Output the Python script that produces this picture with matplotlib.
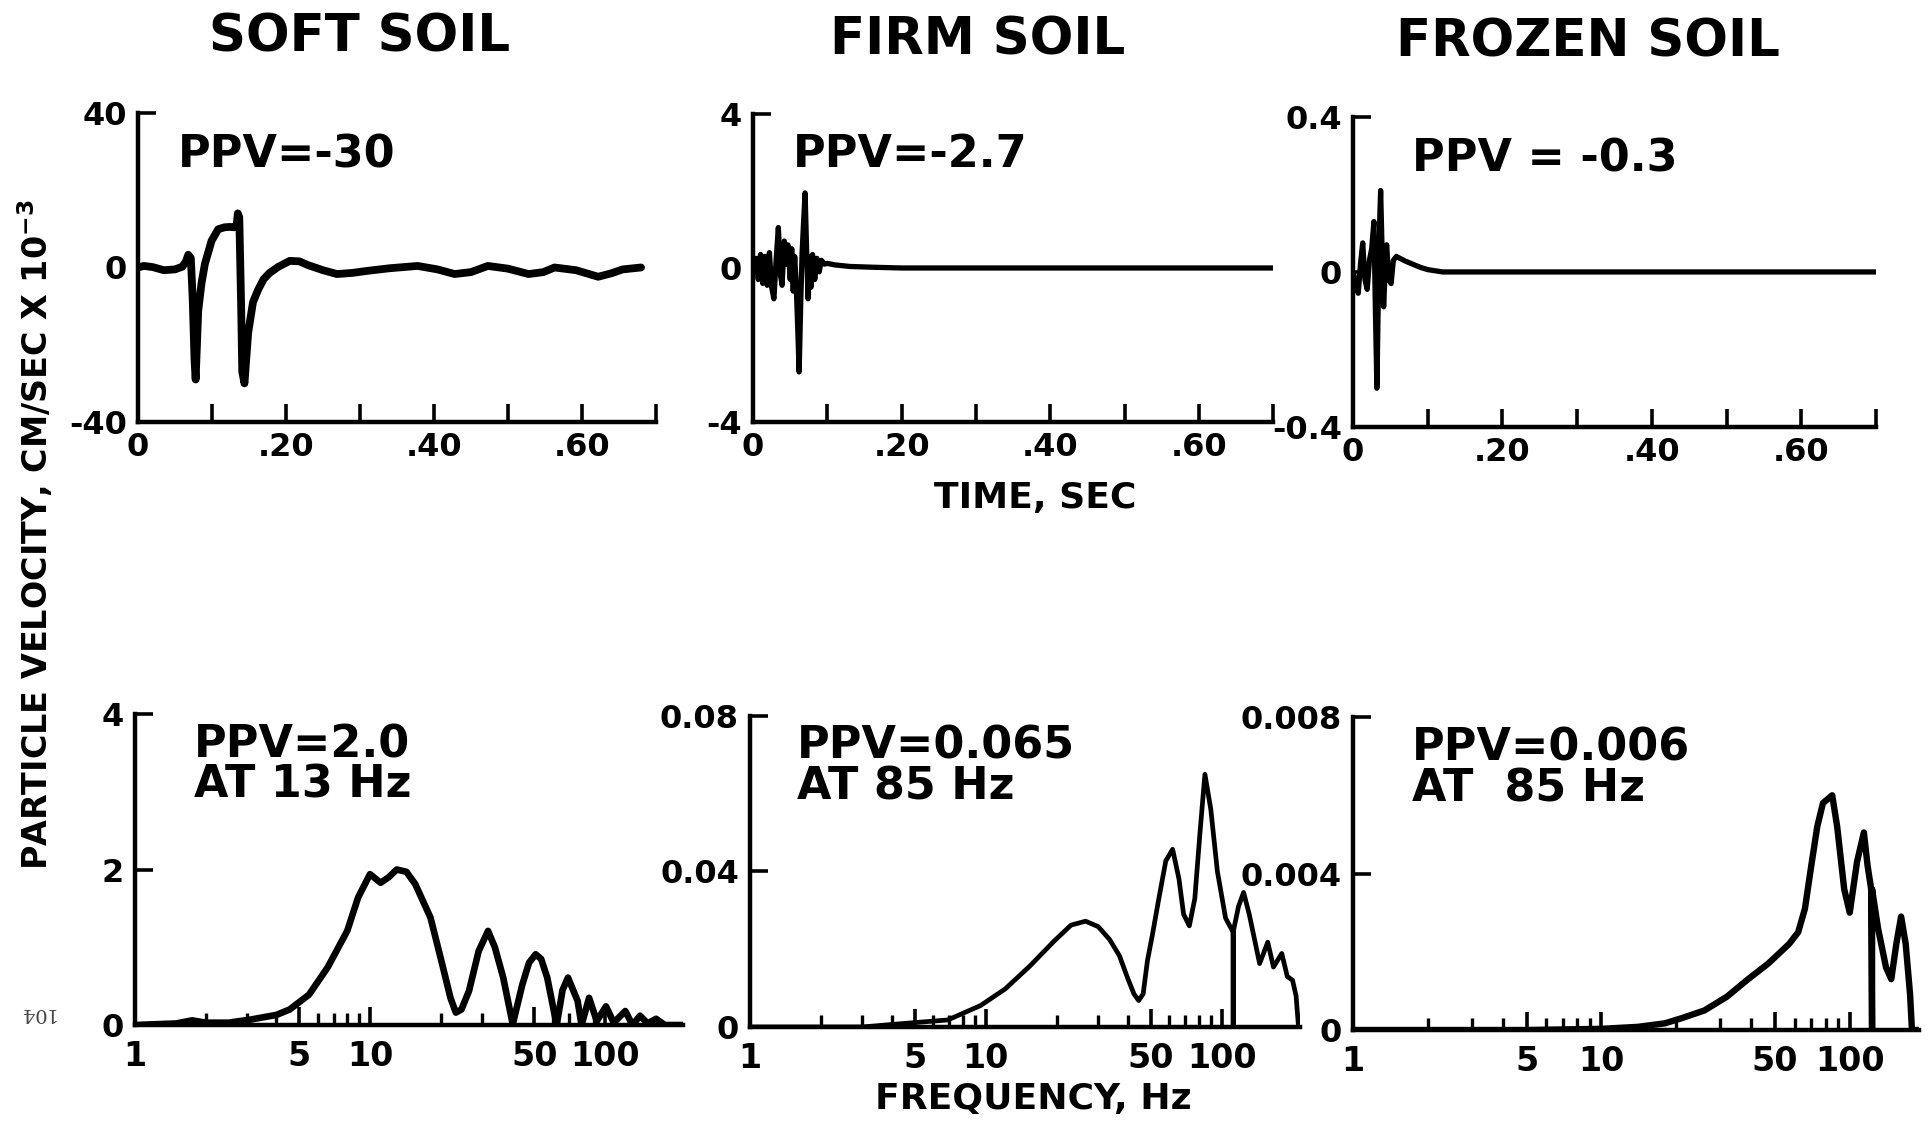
import numpy as np
import matplotlib.pyplot as plt

plt.rcParams['font.family'] = 'DejaVu Sans'
plt.rcParams['font.weight'] = 'bold'
plt.rcParams['mathtext.fontset'] = 'dejavusans'
plt.rcParams['mathtext.default'] = 'bf'

titles = ['SOFT SOIL', 'FIRM SOIL', 'FROZEN SOIL']

# particle velocity time histories (sec, cm/sec x 1e-3)
soft_t = [0.000, 0.008, 0.020, 0.035, 0.050, 0.060, 0.065, 0.068, 0.0715, 0.074,
          0.0765, 0.078, 0.0815, 0.086, 0.0905, 0.0995, 0.1085, 0.117, 0.124, 0.131,
          0.1335, 0.135, 0.137, 0.1395, 0.141, 0.144, 0.149, 0.1555, 0.1626, 0.170,
          0.178, 0.190, 0.205, 0.218, 0.230, 0.250, 0.269, 0.290, 0.309, 0.340,
          0.378, 0.405, 0.428, 0.450, 0.473, 0.500, 0.528, 0.548, 0.563, 0.592,
          0.622, 0.640, 0.655, 0.680]
soft_v = [0.0, 0.4, 0.1, -0.7, -0.5, 0.2, 1.6, 3.3, 2.4, -8.0,
          -24.0, -29.0, -11.2, -4.0, 0.9, 6.9, 9.9, 10.4, 10.5, 10.4,
          11.0, 14.0, 13.0, -10.0, -27.0, -30.0, -16.9, -9.0, -5.7, -3.0,
          -1.4, 0.2, 1.7, 1.6, 0.6, -0.7, -1.7, -1.4, -0.9, -0.2,
          0.4, -0.5, -1.7, -1.2, 0.4, -0.3, -1.7, -1.2, 0.0, -0.7,
          -2.4, -1.5, -0.5, 0.0]

firm_t = [0.000, 0.004, 0.007, 0.010, 0.013, 0.016, 0.019, 0.022, 0.025, 0.028,
          0.031, 0.034, 0.037, 0.039, 0.042, 0.045, 0.047, 0.050, 0.052, 0.054,
          0.056, 0.058, 0.060, 0.062, 0.064, 0.066, 0.068, 0.070, 0.072, 0.074,
          0.076, 0.078, 0.080, 0.083, 0.086, 0.089, 0.092, 0.096, 0.100, 0.110,
          0.130, 0.160, 0.200, 0.700]
firm_v = [0.0, 0.25, -0.3, 0.35, -0.4, 0.3, -0.45, 0.4, -0.5, -0.8,
          0.2, 1.05, -0.2, -0.45, 0.7, 0.1, 0.6, -0.3, 0.5, -0.6,
          0.3, -0.4, -1.5, -2.7, -1.0, 0.4, 1.2, 1.95, 0.5, -0.8,
          0.3, -0.5, 0.35, -0.3, 0.25, -0.1, 0.2, 0.1, 0.12, 0.08,
          0.04, 0.02, 0.0, 0.0]

frozen_t = [0.000, 0.004, 0.007, 0.010, 0.013, 0.016, 0.019, 0.022, 0.025, 0.028,
            0.030, 0.032, 0.034, 0.036, 0.037, 0.039, 0.041, 0.043, 0.045, 0.048,
            0.051, 0.054, 0.058, 0.063, 0.070, 0.080, 0.090, 0.100, 0.120, 0.700]
frozen_v = [0.0, -0.03, -0.055, 0.02, 0.075, -0.02, -0.045, 0.03, 0.06, 0.13,
            -0.1, -0.3, -0.05, 0.15, 0.21, 0.05, -0.09, 0.0, 0.07, -0.02,
            -0.03, 0.03, 0.04, 0.035, 0.028, 0.02, 0.012, 0.006, 0.0, 0.0]

# Fourier amplitude spectra (Hz, cm/sec x 1e-3)
soft_f = [1.0, 1.5, 1.75, 2.0, 2.5, 3.1, 4.0, 4.55, 5.5, 6.6,
          8.0, 8.9, 10.0, 11.1, 12.0, 13.0, 14.3, 15.6, 18.1, 20.3,
          22.0, 23.2, 24.5, 26.4, 29.0, 31.8, 34.0, 36.9, 40.5, 44.5,
          47.5, 50.7, 53.5, 56.8, 62.3, 66.0, 69.6, 76.5, 79.5, 85.6,
          92.3, 101.0, 109.0, 122.0, 131.0, 141.0, 152.0, 165.0, 180.0, 215.0]
soft_a = [0.0, 0.02, 0.06, 0.03, 0.03, 0.07, 0.13, 0.2, 0.39, 0.74,
          1.21, 1.64, 1.94, 1.83, 1.9, 2.0, 1.97, 1.81, 1.38, 0.78,
          0.35, 0.16, 0.2, 0.44, 0.95, 1.21, 1.0, 0.61, 0.01, 0.52,
          0.8, 0.91, 0.85, 0.61, 0.0, 0.45, 0.61, 0.31, 0.0, 0.35,
          0.05, 0.24, 0.03, 0.18, 0.0, 0.12, 0.02, 0.08, 0.0, 0.0]

firm_f = [1.0, 3.0, 4.3, 6.9, 9.5, 12.1, 15.4, 19.5, 23.0, 26.5,
          30.0, 33.5, 36.9, 40.0, 42.5, 44.5, 46.5, 48.5, 51.0, 54.0,
          58.0, 62.0, 66.0, 69.0, 73.0, 77.0, 81.0, 85.0, 90.0, 96.0,
          104.0, 112.0, 112.0, 112.0, 118.0, 124.0, 131.0, 145.0, 157.0, 166.0,
          180.0, 190.0, 200.0, 207.0, 212.0, 215.0]
firm_a = [0.0, 0.0, 0.0008, 0.0018, 0.0055, 0.0098, 0.0157, 0.0221, 0.0262, 0.0272,
          0.0258, 0.0225, 0.0183, 0.0125, 0.0085, 0.0068, 0.0085, 0.0171, 0.024, 0.0325,
          0.0427, 0.0457, 0.038, 0.029, 0.026, 0.033, 0.05, 0.065, 0.056, 0.040,
          0.028, 0.0244, 0.0, 0.0244, 0.031, 0.0346, 0.029, 0.0163, 0.0218, 0.0154,
          0.0189, 0.013, 0.012, 0.008, 0.0, 0.0]

frozen_f = [1.0, 5.0, 10.0, 14.0, 18.0, 21.0, 26.0, 32.0, 39.0, 47.0,
            57.0, 62.0, 66.0, 70.0, 74.0, 78.0, 85.0, 89.0, 95.0, 100.0,
            107.0, 114.0, 118.0, 122.0, 123.0, 123.0, 130.0, 140.0, 147.0, 154.0,
            161.0, 168.0, 175.0, 178.0, 190.0]
frozen_a = [0.0, 0.0, 0.00003, 0.00008, 0.00017, 0.0003, 0.0005, 0.00085, 0.0013, 0.0017,
            0.0022, 0.0025, 0.0031, 0.0042, 0.0052, 0.0058, 0.006, 0.0052, 0.0036, 0.003,
            0.0043, 0.00505, 0.0042, 0.0036, 0.0, 0.0036, 0.0026, 0.0016, 0.0013, 0.0022,
            0.0029, 0.0022, 0.0009, 0.0, 0.0]

time_ylims = [40, 4, 0.4]
time_ylabels = [['-40', '0', '40'], ['-4', '0', '4'], ['-0.4', '0', '0.4']]
spec_ylims = [4, 0.08, 0.008]
spec_ylabels = [['0', '2', '4'], ['0', '0.04', '0.08'], ['0', '0.004', '0.008']]
spec_xmax = [215, 215, 190]

ppv_time = ['PPV=-30', 'PPV=-2.7', 'PPV = -0.3']
ppv_spec = [('PPV=2.0', 'AT 13 Hz'), ('PPV=0.065', 'AT 85 Hz'), ('PPV=0.006', 'AT  85 Hz')]

time_data = [(soft_t, soft_v), (firm_t, firm_v), (frozen_t, frozen_v)]
spec_data = [(soft_f, soft_a), (firm_f, firm_a), (frozen_f, frozen_a)]

time_rects = [[0.0715, 0.6269, 0.2685, 0.2732],
              [0.3904, 0.6269, 0.2696, 0.2723],
              [0.7014, 0.6225, 0.2711, 0.2741]]
spec_rects = [[0.0700, 0.0937, 0.2841, 0.2750],
              [0.3888, 0.0920, 0.2851, 0.2750],
              [0.7014, 0.0893, 0.2934, 0.2767]]
time_lw = [5.6, 3.8, 3.8]
spec_lw = [4.8, 3.4, 4.6]

fig = plt.figure(figsize=(19.29, 11.31), dpi=100)


def frame(ax):
    for side in ['top', 'right']:
        ax.spines[side].set_visible(False)
    for side in ['left', 'bottom']:
        ax.spines[side].set_linewidth(3.2)
        ax.spines[side].set_capstyle('projecting')
    ax.tick_params(which='major', direction='in', length=13, width=2.6,
                   labelsize=23, pad=8)
    ax.tick_params(which='minor', direction='in', length=9, width=2.4)
    ax.set_facecolor('none')


for i in range(3):
    ax = fig.add_axes(time_rects[i])
    frame(ax)
    t, v = time_data[i]
    ax.plot(t, v, color='black', lw=time_lw[i], solid_joinstyle='round',
            solid_capstyle='round')
    ax.set_xlim(0, 0.7)
    ax.set_ylim(-time_ylims[i], time_ylims[i])
    ax.set_xticks(np.arange(8) * 0.1)
    ax.set_xticklabels(['0', '', '.20', '', '.40', '', '.60', ''])
    ax.set_yticks([-time_ylims[i], 0, time_ylims[i]])
    ax.set_yticklabels(time_ylabels[i])
    ax.tick_params(axis='x', pad=7)

for i in range(3):
    ax = fig.add_axes(spec_rects[i])
    frame(ax)
    f, a = spec_data[i]
    ax.plot(f, a, color='black', lw=spec_lw[i], solid_joinstyle='round',
            solid_capstyle='round')
    ax.set_xscale('log')
    ax.set_xlim(1, spec_xmax[i])
    ax.set_ylim(0, spec_ylims[i])
    ax.set_xticks([1, 5, 10, 50, 100])
    ax.set_xticklabels(['1', '5', '10', '50', '100'])
    ax.set_xticks([2, 3, 4, 6, 7, 8, 9, 20, 30, 40, 60, 70, 80, 90], minor=True)
    ax.set_xticklabels([], minor=True)
    ax.set_yticks([0, spec_ylims[i] / 2, spec_ylims[i]])
    ax.set_yticklabels(spec_ylabels[i])
    ax.tick_params(axis='x', which='major', pad=11, labelsize=24)

# panel titles and peak annotations
title_x = [0.1866, 0.507, 0.8232]
title_y = [0.967, 0.964, 0.962]
for x, y, s in zip(title_x, title_y, titles):
    fig.text(x, y, s, ha='center', va='center', fontsize=37)

ppv_x = [0.0923, 0.4111, 0.732]
ppv_y = [0.863, 0.863, 0.859]
for x, y, s in zip(ppv_x, ppv_y, ppv_time):
    fig.text(x, y, s, ha='left', va='center', fontsize=32)

spec_x = [0.1006, 0.4132, 0.732]
spec_y = [(0.3413, 0.3059), (0.3404, 0.3042), (0.3386, 0.3024)]
for x, (y1, y2), (s1, s2) in zip(spec_x, spec_y, ppv_spec):
    fig.text(x, y1, s1, ha='left', va='center', fontsize=32)
    fig.text(x, y2, s2, ha='left', va='center', fontsize=32)

fig.text(0.5365, 0.5597, 'TIME, SEC', ha='center', va='center', fontsize=26)
fig.text(0.5355, 0.0283, 'FREQUENCY, Hz', ha='center', va='center', fontsize=26)
fig.text(0.0181, 0.527, r'PARTICLE VELOCITY, CM/SEC X 10$^{-3}$',
         rotation=90, ha='center', va='center', fontsize=24)
fig.text(0.0187, 0.104, '104', rotation=180, ha='center', va='center',
         fontsize=14, family='DejaVu Serif', weight='normal', color='#444444')

fig.savefig('out.png', dpi=100)
